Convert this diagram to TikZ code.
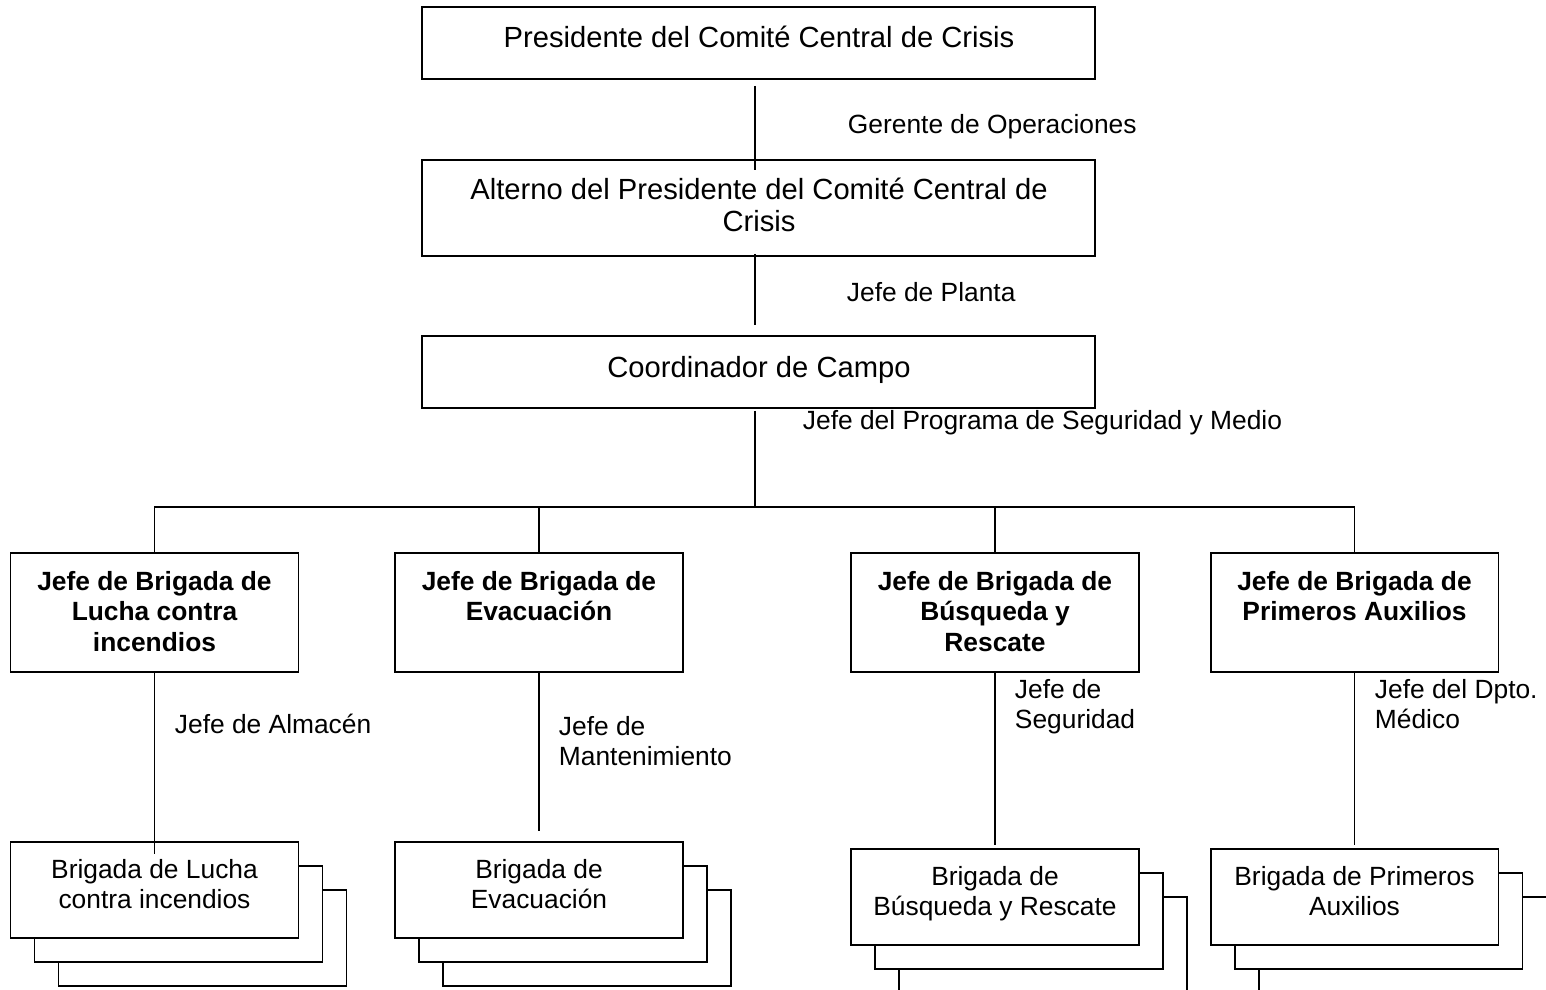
\documentclass[tikz,border=0pt]{standalone}
\usepackage{fontspec}
\setmainfont{Liberation Sans}
\usetikzlibrary{positioning,calc}

\begin{document}
\begin{tikzpicture}[x=0.02cm, y=-0.02cm, line width=1.1pt,
    box/.style={draw, rectangle, fill=white, inner sep=0pt},
    wide/.style={box, minimum width=13.46cm},
    chief/.style={box, minimum width=5.76cm, minimum height=2.38cm},
    crew/.style={box, minimum width=5.76cm, minimum height=1.92cm},
    txt/.style={inner sep=0pt, align=center, anchor=north, font=\fontsize{15}{17.5}\selectfont},
    big/.style={txt, font=\fontsize{16.6}{18.2}\selectfont},
    bold/.style={txt, font=\fontsize{15}{17.5}\selectfont\bfseries},
    lbl/.style={txt, anchor=north west, align=left}]
    \clip (0,0) rectangle (1546,990);

    % committee chain
    \node[wide, minimum height=1.44cm] (pres) at (758.5,43) {};
    \node[wide, minimum height=1.92cm] (alt) at (758.5,208) {};
    \node[wide, minimum height=1.44cm] (coord) at (758.5,372) {};
    \node[big] (tPres) at (759,25) {Presidente del Comité Central de Crisis};
    \node[big] (tAlt) at (759,177) {Alterno del Presidente del Comité Central de\\Crisis};
    \node[big] (tCoord) at (759,355) {Coordinador de Campo};
    \node[lbl] (lGer) at (847,113) {Gerente de Operaciones};
    \node[lbl] (lPlanta) at (846,281) {Jefe de Planta};
    \node[lbl] (lProg) at (802,409) {Jefe del Programa de Seguridad y Medio};
    \coordinate (hub) at (755,507);

    % brigade chiefs
    \node[chief] (chiefA) at (154.5,612.5) {};
    \node[chief] (chiefB) at (539,612.5) {};
    \node[chief] (chiefC) at (995,612.5) {};
    \node[chief] (chiefD) at (1354.5,612.5) {};
    \node[bold] (tChiefA) at (154.5,570) {Jefe de Brigada de\\Lucha contra\\incendios};
    \node[bold] (tChiefB) at (539,570) {Jefe de Brigada de\\Evacuación};
    \node[bold] (tChiefC) at (995,570) {Jefe de Brigada de\\Búsqueda y\\Rescate};
    \node[bold] (tChiefD) at (1354.5,570) {Jefe de Brigada de\\Primeros Auxilios};
    \node[lbl] (lAlm) at (174,713) {Jefe de Almacén};
    \node[lbl] (lMant) at (558,715) {Jefe de\\Mantenimiento};
    \node[lbl] (lSeg) at (1014,678) {Jefe de\\Seguridad};
    \node[lbl] (lMed) at (1374,678) {Jefe del Dpto.\\Médico};

    % brigades, stacked
    \node[crew] (crewA3) at (202.5,938) {};
    \node[crew] (crewA2) at (178.5,914) {};
    \node[crew] (crewA) at (154.5,890) {};
    \node[crew] (crewB3) at (587,938) {};
    \node[crew] (crewB2) at (563,914) {};
    \node[crew] (crewB) at (539,890) {};
    \node[crew] (crewC3) at (1043,945) {};
    \node[crew] (crewC2) at (1019,921) {};
    \node[crew] (crewC) at (995,897) {};
    \node[crew] (crewD3) at (1402.5,945) {};
    \node[crew] (crewD2) at (1378.5,921) {};
    \node[crew] (crewD) at (1354.5,897) {};
    \node[txt] (tCrewA) at (154.5,858) {Brigada de Lucha\\contra incendios};
    \node[txt] (tCrewB) at (539,858) {Brigada de\\Evacuación};
    \node[txt] (tCrewC) at (995,865) {Brigada de\\Búsqueda y Rescate};
    \node[txt] (tCrewD) at (1354.5,865) {Brigada de Primeros\\Auxilios};

    % connectors
    \draw ($(pres.south -| hub)+(0,6)$) -- ($(alt.north -| hub)+(0,11)$);
    \draw ($(alt.south -| hub)+(0,-3)$) -- ($(coord.north -| hub)+(0,-10)$);
    \draw ($(coord.south -| hub)+(0,2)$) -- (hub);
    \draw (chiefA.north) |- (hub) -| (chiefD.north);
    \draw (chiefB.north) -- (chiefB.north |- hub);
    \draw (chiefC.north) -- (chiefC.north |- hub);
    \draw (chiefA.south) -- ($(crewA.north)+(0,13)$);
    \draw (chiefB.south) -- ($(crewB.north)+(0,-10)$);
    \draw (chiefC.south) -- ($(crewC.north)+(0,-3)$);
    \draw (chiefD.south) -- ($(crewD.north)+(0,-3)$);
\end{tikzpicture}
\end{document}
